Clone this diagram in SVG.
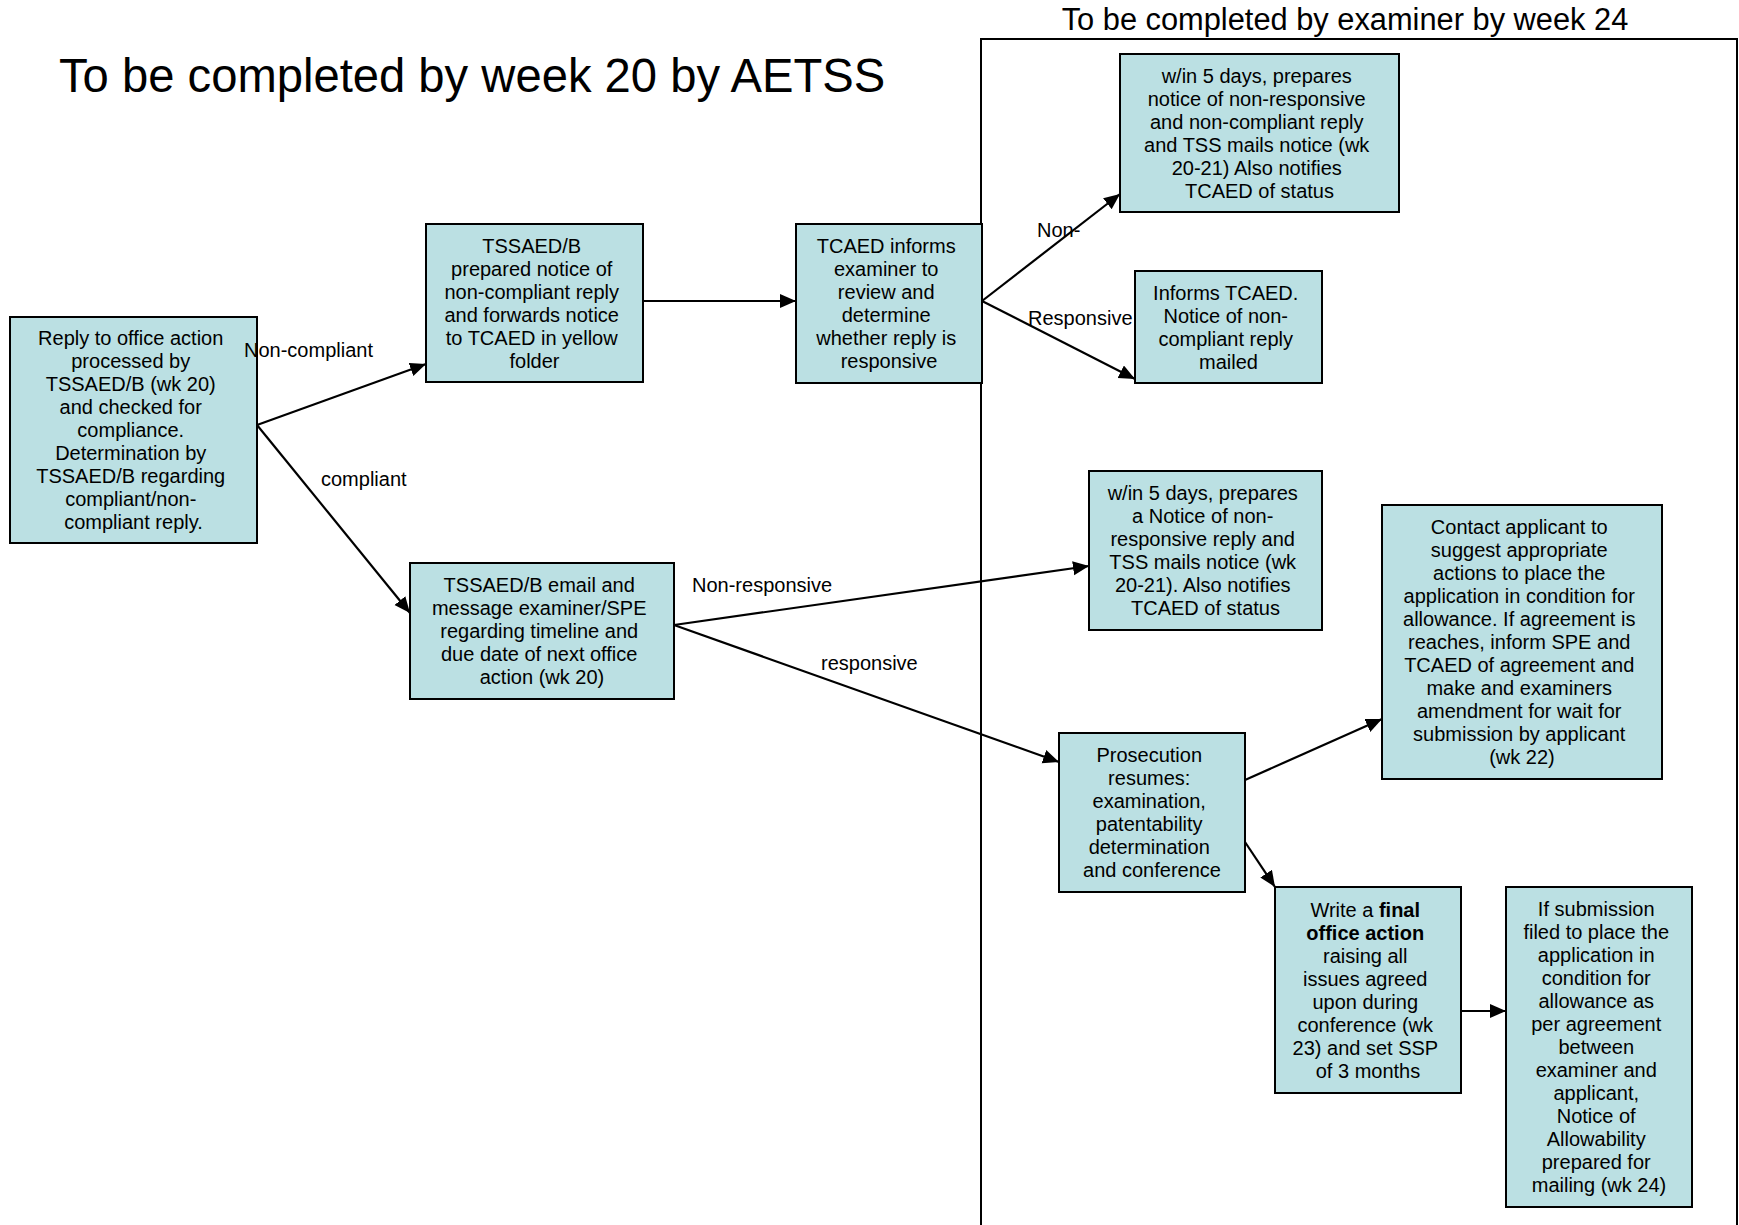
<svg xmlns="http://www.w3.org/2000/svg" width="1739" height="1225" viewBox="0 0 1739 1225">
  <style>
    .box { fill: #BBE0E3; stroke: #000; stroke-width: 2; }
    .txt { font-family: "Liberation Sans", Arial, sans-serif; font-size: 20px; fill: #000; text-anchor: middle; }
    .lbl { font-family: "Liberation Sans", Arial, sans-serif; font-size: 20px; fill: #000; }
    .edge { stroke: #000; stroke-width: 2.2; fill: none; marker-end: url(#arrow); }
    .b { font-weight: bold; }
  </style>
  <defs>
    <marker id="arrow" markerUnits="userSpaceOnUse" markerWidth="18" markerHeight="15" refX="16" refY="7" orient="auto">
      <path d="M0,0 L16,7 L0,14 z" fill="#000"/>
    </marker>
  </defs>

  <rect width="1739" height="1225" fill="#fff"/>

  <!-- headings -->
  <text x="59" y="92" font-family="Liberation Sans, Arial, sans-serif" font-size="47.2">To be completed by week 20 by AETSS</text>
  <text x="1345" y="30" font-family="Liberation Sans, Arial, sans-serif" font-size="30.8" text-anchor="middle">To be completed by examiner by week 24</text>

  <!-- examiner lane -->
  <rect id="examiner-lane" x="981" y="39" width="756" height="1210" fill="none" stroke="#000" stroke-width="2"/>

  <!-- connectors -->
  <g id="connectors">
    <line class="edge" x1="257" y1="425" x2="426" y2="364"/>
    <line class="edge" x1="257" y1="425" x2="410" y2="613"/>
    <line class="edge" x1="643" y1="301" x2="796" y2="301"/>
    <line class="edge" x1="982" y1="301" x2="1120" y2="194"/>
    <line class="edge" x1="982" y1="301" x2="1135" y2="379"/>
    <line class="edge" x1="674" y1="625" x2="1089" y2="566"/>
    <line class="edge" x1="674" y1="625" x2="1059" y2="762"/>
    <line class="edge" x1="1245" y1="780" x2="1382" y2="719"/>
    <line class="edge" x1="1245" y1="842" x2="1275" y2="887"/>
    <line class="edge" x1="1461" y1="1011" x2="1506" y2="1011"/>
  </g>

  <!-- process steps -->
  <g id="reply-received">
    <rect class="box" x="10" y="317" width="247" height="226"/>
    <text class="txt" y="345">
      <tspan x="133.5">Reply to office action</tspan>
      <tspan x="133.5" dy="23">processed by</tspan>
      <tspan x="133.5" dy="23">TSSAED/B (wk 20)</tspan>
      <tspan x="133.5" dy="23">and checked for</tspan>
      <tspan x="133.5" dy="23">compliance.</tspan>
      <tspan x="133.5" dy="23">Determination by</tspan>
      <tspan x="133.5" dy="23">TSSAED/B regarding</tspan>
      <tspan x="133.5" dy="23">compliant/non-</tspan>
      <tspan x="133.5" dy="23">compliant reply.</tspan>
    </text>
  </g>

  <g id="noncompliant-notice">
    <rect class="box" x="426" y="224" width="217" height="158"/>
    <text class="txt" y="253">
      <tspan x="534.5">TSSAED/B</tspan>
      <tspan x="534.5" dy="23">prepared notice of</tspan>
      <tspan x="534.5" dy="23">non-compliant reply</tspan>
      <tspan x="534.5" dy="23">and forwards notice</tspan>
      <tspan x="534.5" dy="23">to TCAED in yellow</tspan>
      <tspan x="534.5" dy="23">folder</tspan>
    </text>
  </g>

  <g id="tcaed-informs">
    <rect class="box" x="796" y="224" width="186" height="159"/>
    <text class="txt" y="253">
      <tspan x="889">TCAED informs</tspan>
      <tspan x="889" dy="23">examiner to</tspan>
      <tspan x="889" dy="23">review and</tspan>
      <tspan x="889" dy="23">determine</tspan>
      <tspan x="889" dy="23">whether reply is</tspan>
      <tspan x="889" dy="23">responsive</tspan>
    </text>
  </g>

  <g id="nonresponsive-noncompliant">
    <rect class="box" x="1120" y="54" width="279" height="158"/>
    <text class="txt" y="82.5">
      <tspan x="1259.5">w/in 5 days, prepares</tspan>
      <tspan x="1259.5" dy="23">notice of non-responsive</tspan>
      <tspan x="1259.5" dy="23">and non-compliant reply</tspan>
      <tspan x="1259.5" dy="23">and TSS mails notice (wk</tspan>
      <tspan x="1259.5" dy="23">20-21) Also notifies</tspan>
      <tspan x="1259.5" dy="23">TCAED of status</tspan>
    </text>
  </g>

  <g id="informs-tcaed">
    <rect class="box" x="1135" y="271" width="187" height="112"/>
    <text class="txt" y="299.5">
      <tspan x="1228.5">Informs TCAED.</tspan>
      <tspan x="1228.5" dy="23">Notice of non-</tspan>
      <tspan x="1228.5" dy="23">compliant reply</tspan>
      <tspan x="1228.5" dy="23">mailed</tspan>
    </text>
  </g>

  <g id="email-examiner">
    <rect class="box" x="410" y="563" width="264" height="136"/>
    <text class="txt" y="592">
      <tspan x="542">TSSAED/B email and</tspan>
      <tspan x="542" dy="23">message examiner/SPE</tspan>
      <tspan x="542" dy="23">regarding timeline and</tspan>
      <tspan x="542" dy="23">due date of next office</tspan>
      <tspan x="542" dy="23">action (wk 20)</tspan>
    </text>
  </g>

  <g id="nonresponsive-notice">
    <rect class="box" x="1089" y="471" width="233" height="159"/>
    <text class="txt" y="500">
      <tspan x="1205.5">w/in 5 days, prepares</tspan>
      <tspan x="1205.5" dy="23">a Notice of non-</tspan>
      <tspan x="1205.5" dy="23">responsive reply and</tspan>
      <tspan x="1205.5" dy="23">TSS mails notice (wk</tspan>
      <tspan x="1205.5" dy="23">20-21). Also notifies</tspan>
      <tspan x="1205.5" dy="23">TCAED of status</tspan>
    </text>
  </g>

  <g id="contact-applicant">
    <rect class="box" x="1382" y="505" width="280" height="274"/>
    <text class="txt" y="534">
      <tspan x="1522">Contact applicant to</tspan>
      <tspan x="1522" dy="23">suggest appropriate</tspan>
      <tspan x="1522" dy="23">actions to place the</tspan>
      <tspan x="1522" dy="23">application in condition for</tspan>
      <tspan x="1522" dy="23">allowance. If agreement is</tspan>
      <tspan x="1522" dy="23">reaches, inform SPE and</tspan>
      <tspan x="1522" dy="23">TCAED of agreement and</tspan>
      <tspan x="1522" dy="23">make and examiners</tspan>
      <tspan x="1522" dy="23">amendment for wait for</tspan>
      <tspan x="1522" dy="23">submission by applicant</tspan>
      <tspan x="1522" dy="23">(wk 22)</tspan>
    </text>
  </g>

  <g id="prosecution-resumes">
    <rect class="box" x="1059" y="733" width="186" height="159"/>
    <text class="txt" y="762">
      <tspan x="1152">Prosecution</tspan>
      <tspan x="1152" dy="23">resumes:</tspan>
      <tspan x="1152" dy="23">examination,</tspan>
      <tspan x="1152" dy="23">patentability</tspan>
      <tspan x="1152" dy="23">determination</tspan>
      <tspan x="1152" dy="23">and conference</tspan>
    </text>
  </g>

  <g id="final-action">
    <rect class="box" x="1275" y="887" width="186" height="206"/>
    <text class="txt" y="916.5">
      <tspan x="1368">Write a <tspan class="b">final</tspan></tspan>
      <tspan x="1368" dy="23" class="b">office action</tspan>
      <tspan x="1368" dy="23">raising all</tspan>
      <tspan x="1368" dy="23">issues agreed</tspan>
      <tspan x="1368" dy="23">upon during</tspan>
      <tspan x="1368" dy="23">conference (wk</tspan>
      <tspan x="1368" dy="23">23) and set SSP</tspan>
      <tspan x="1368" dy="23">of 3 months</tspan>
    </text>
  </g>

  <g id="notice-of-allowability">
    <rect class="box" x="1506" y="887" width="186" height="320"/>
    <text class="txt" y="916">
      <tspan x="1599">If submission</tspan>
      <tspan x="1599" dy="23">filed to place the</tspan>
      <tspan x="1599" dy="23">application in</tspan>
      <tspan x="1599" dy="23">condition for</tspan>
      <tspan x="1599" dy="23">allowance as</tspan>
      <tspan x="1599" dy="23">per agreement</tspan>
      <tspan x="1599" dy="23">between</tspan>
      <tspan x="1599" dy="23">examiner and</tspan>
      <tspan x="1599" dy="23">applicant,</tspan>
      <tspan x="1599" dy="23">Notice of</tspan>
      <tspan x="1599" dy="23">Allowability</tspan>
      <tspan x="1599" dy="23">prepared for</tspan>
      <tspan x="1599" dy="23">mailing (wk 24)</tspan>
    </text>
  </g>

  <!-- connector labels -->
  <g id="connector-labels">
    <text class="lbl" x="244" y="357">Non-compliant</text>
    <text class="lbl" x="321" y="486">compliant</text>
    <text class="lbl" x="1037" y="237">Non-</text>
    <text class="lbl" x="1028" y="325">Responsive</text>
    <text class="lbl" x="692" y="592">Non-responsive</text>
    <text class="lbl" x="821" y="670">responsive</text>
  </g>
</svg>
